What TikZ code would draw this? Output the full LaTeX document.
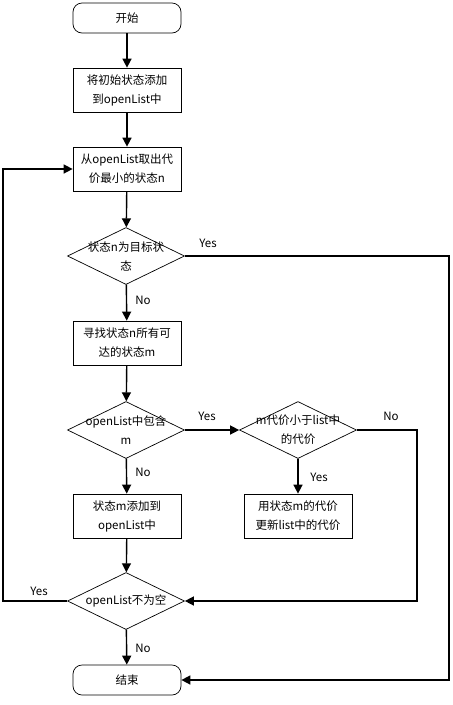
\documentclass[tikz,border=0pt]{standalone}
\usepackage{fontspec}
\setmainfont{Noto Sans CJK SC}
\usetikzlibrary{shapes.geometric,arrows.meta}

\tikzset{
  terminal/.style={draw, rounded corners=9pt, minimum width=108pt, minimum height=30pt, line width=0.7pt},
  process/.style={draw, minimum width=108pt, minimum height=44pt, align=center, line width=0.7pt},
  decision/.style={draw, diamond, minimum width=117pt, minimum height=57pt, inner sep=0pt, line width=0.7pt},
  flow/.style={line width=1.4pt, -{Triangle[length=9pt,width=9pt]}},
  tag/.style={inner sep=0pt, align=center}
}

\begin{document}
\begin{tikzpicture}[x=1pt, y=-1pt, font=\fontsize{11.5}{19}\selectfont]
	\useasboundingbox (0,0) rectangle (453,705);

	% 节点
	\node[terminal] (start) at (127,18) {开始};
	\node[process] (b1) at (127,90) {将初始状态添加\\到openList中};
	\node[process] (b2) at (127,169) {从openList取出代\\价最小的状态n};
	\node[decision] (d1) at (126,256) {};
	\node[tag] (d1t) at (d1) {状态n为目标状\\态};
	\node[process] (b3) at (127,343) {寻找状态n所有可\\达的状态m};
	\node[decision] (d2) at (126,430) {};
	\node[tag] (d2t) at (d2) {openList中包含\\m};
	\node[decision] (d3) at (298,430) {};
	\node[tag] (d3t) at (d3) {m代价小于list中\\的代价};
	\node[process] (b4) at (127,516) {状态m添加到\\openList中};
	\node[process] (b5) at (298,516) {用状态m的代价\\更新list中的代价};
	\node[decision] (d4) at (126,601) {};
	\node[tag] (d4t) at (d4) {openList不为空};
	\node[terminal] (stop) at (127,680) {结束};

	% 转折点
	\coordinate (lf) at (3,0);
	\coordinate (rm) at (417,0);
	\coordinate (rt) at (449,0);

	% 连线
	\draw[flow] (start) -- (b1);
	\draw[flow] (b1) -- (b2);
	\draw[flow] (b2) -- (d1);
	\draw[flow] (d1) -- (b3);
	\draw[flow] (b3) -- (d2);
	\draw[flow] (d2) -- (d3);
	\draw[flow] (d2) -- (b4);
	\draw[flow] (d3) -- (b5);
	\draw[flow] (b4) -- (d4);
	\draw[flow] (d4) -- (stop);
	\draw[flow] (d1.east) -| (rt |- stop.east) -- (stop.east);
	\draw[flow] (d3.east) -| (rm |- d4.east) -- (d4.east);
	\draw[flow] (d4.west) -| (lf |- b2.west) -- (b2.west);

	% 标注
	\node[tag] (y1) at (208,243) {Yes};
	\node[tag] (n1) at (143,300) {No};
	\node[tag] (y2) at (207,416) {Yes};
	\node[tag] (n3) at (391,416) {No};
	\node[tag] (y3) at (319,477) {Yes};
	\node[tag] (n2) at (143,472) {No};
	\node[tag] (y4) at (39,591) {Yes};
	\node[tag] (n4) at (143,648) {No};
\end{tikzpicture}
\end{document}
